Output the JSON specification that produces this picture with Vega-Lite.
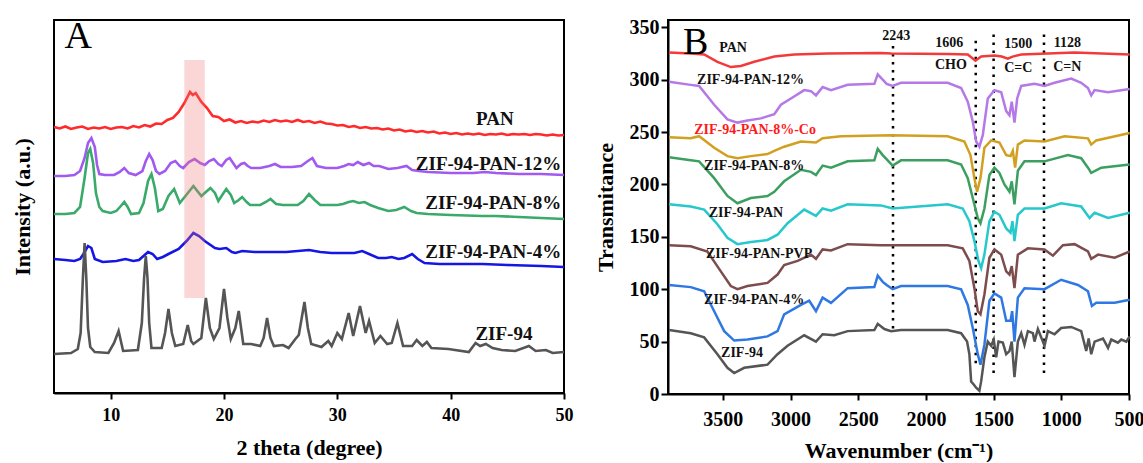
{
"$schema": "https://vega.github.io/schema/vega-lite/v6.json",
"background": "white",
"padding": {"left": 10, "top": 16, "right": 0, "bottom": 0},
"spacing": 19,
"columns": 2,
"align": "none",
"resolve": {"scale": {"color": "independent"}},
"config": {
  "font": "Liberation Serif",
  "view": {"stroke": "black", "strokeWidth": 2},
  "axis": {"labelFont": "Liberation Serif", "labelFontWeight": "bold", "labelColor": "black", "titleFont": "Liberation Serif", "titleFontWeight": "bold", "titleColor": "black", "tickColor": "black", "tickWidth": 2, "domainColor": "black", "domainWidth": 2, "grid": false}
},
"datasets": {
  "xrd": [
    {"x":5,"y":266,"s":"PAN"},{"x":5.5,"y":264.5,"s":"PAN"},{"x":6,"y":266.5,"s":"PAN"},{"x":6.5,"y":264,"s":"PAN"},{"x":7,"y":265.5,"s":"PAN"},{"x":7.5,"y":266.5,"s":"PAN"},{"x":8,"y":264,"s":"PAN"},{"x":8.5,"y":265.5,"s":"PAN"},{"x":9,"y":264.5,"s":"PAN"},{"x":9.5,"y":266,"s":"PAN"},{"x":10,"y":264,"s":"PAN"},{"x":10.5,"y":265.5,"s":"PAN"},{"x":11,"y":266,"s":"PAN"},{"x":11.5,"y":264.5,"s":"PAN"},{"x":12,"y":267,"s":"PAN"},{"x":12.5,"y":265.5,"s":"PAN"},{"x":13,"y":268,"s":"PAN"},{"x":13.5,"y":266.5,"s":"PAN"},{"x":14,"y":269.5,"s":"PAN"},{"x":14.5,"y":269,"s":"PAN"},{"x":15,"y":273,"s":"PAN"},{"x":15.5,"y":275,"s":"PAN"},{"x":16,"y":281,"s":"PAN"},{"x":16.5,"y":290,"s":"PAN"},{"x":17,"y":301,"s":"PAN"},{"x":17.25,"y":298,"s":"PAN"},{"x":17.5,"y":300,"s":"PAN"},{"x":18,"y":291,"s":"PAN"},{"x":18.5,"y":285,"s":"PAN"},{"x":19,"y":277,"s":"PAN"},{"x":19.5,"y":276,"s":"PAN"},{"x":20,"y":272,"s":"PAN"},{"x":20.5,"y":273.5,"s":"PAN"},{"x":21,"y":270.5,"s":"PAN"},{"x":21.5,"y":272,"s":"PAN"},{"x":22,"y":270,"s":"PAN"},{"x":22.5,"y":271.5,"s":"PAN"},{"x":23,"y":270.5,"s":"PAN"},{"x":23.5,"y":272.5,"s":"PAN"},{"x":24,"y":271,"s":"PAN"},{"x":24.5,"y":273,"s":"PAN"},{"x":25,"y":271.5,"s":"PAN"},{"x":25.5,"y":272.5,"s":"PAN"},{"x":26,"y":271,"s":"PAN"},{"x":26.5,"y":273,"s":"PAN"},{"x":27,"y":271,"s":"PAN"},{"x":27.5,"y":272,"s":"PAN"},{"x":28,"y":270,"s":"PAN"},{"x":28.5,"y":271.5,"s":"PAN"},{"x":29,"y":269.5,"s":"PAN"},{"x":29.5,"y":269,"s":"PAN"},{"x":30,"y":267.5,"s":"PAN"},{"x":30.5,"y":268,"s":"PAN"},{"x":31,"y":266,"s":"PAN"},{"x":31.5,"y":267,"s":"PAN"},{"x":32,"y":265,"s":"PAN"},{"x":32.5,"y":266,"s":"PAN"},{"x":33,"y":264.5,"s":"PAN"},{"x":33.5,"y":265,"s":"PAN"},{"x":34,"y":263.5,"s":"PAN"},{"x":34.5,"y":264.5,"s":"PAN"},{"x":35,"y":262.5,"s":"PAN"},{"x":35.5,"y":263.5,"s":"PAN"},{"x":36,"y":261.5,"s":"PAN"},{"x":36.5,"y":262.5,"s":"PAN"},{"x":37,"y":261,"s":"PAN"},{"x":37.5,"y":262,"s":"PAN"},{"x":38,"y":260.5,"s":"PAN"},{"x":38.5,"y":261.5,"s":"PAN"},{"x":39,"y":259.5,"s":"PAN"},{"x":39.5,"y":260.5,"s":"PAN"},{"x":40,"y":259,"s":"PAN"},{"x":40.5,"y":260,"s":"PAN"},{"x":41,"y":258.5,"s":"PAN"},{"x":41.5,"y":259.5,"s":"PAN"},{"x":42,"y":258.5,"s":"PAN"},{"x":42.5,"y":259.5,"s":"PAN"},{"x":43,"y":258,"s":"PAN"},{"x":43.5,"y":259,"s":"PAN"},{"x":44,"y":258.5,"s":"PAN"},{"x":44.5,"y":259.5,"s":"PAN"},{"x":45,"y":258,"s":"PAN"},{"x":45.5,"y":259,"s":"PAN"},{"x":46,"y":258.5,"s":"PAN"},{"x":46.5,"y":259,"s":"PAN"},{"x":47,"y":258,"s":"PAN"},{"x":47.5,"y":259,"s":"PAN"},{"x":48,"y":258.5,"s":"PAN"},{"x":48.5,"y":257.5,"s":"PAN"},{"x":49,"y":258.5,"s":"PAN"},{"x":49.5,"y":257.5,"s":"PAN"},{"x":50,"y":258,"s":"PAN"},

    {"x":5,"y":217,"s":"12"},{"x":6,"y":217,"s":"12"},{"x":6.8,"y":218,"s":"12"},{"x":7.3,"y":222,"s":"12"},{"x":7.7,"y":235,"s":"12"},{"x":8.0,"y":250,"s":"12"},{"x":8.3,"y":255,"s":"12"},{"x":8.6,"y":246,"s":"12"},{"x":8.8,"y":228,"s":"12"},{"x":9.0,"y":219,"s":"12"},{"x":9.5,"y":218,"s":"12"},{"x":10.3,"y":218,"s":"12"},{"x":10.8,"y":221,"s":"12"},{"x":11.2,"y":225,"s":"12"},{"x":11.6,"y":220,"s":"12"},{"x":12.2,"y":218,"s":"12"},{"x":12.8,"y":222,"s":"12"},{"x":13.1,"y":232,"s":"12"},{"x":13.4,"y":239,"s":"12"},{"x":13.7,"y":233,"s":"12"},{"x":14.0,"y":222,"s":"12"},{"x":14.3,"y":219,"s":"12"},{"x":14.8,"y":222,"s":"12"},{"x":15.3,"y":230,"s":"12"},{"x":15.7,"y":232,"s":"12"},{"x":16.1,"y":227,"s":"12"},{"x":16.4,"y":225,"s":"12"},{"x":16.9,"y":231,"s":"12"},{"x":17.4,"y":234,"s":"12"},{"x":17.9,"y":230,"s":"12"},{"x":18.3,"y":228,"s":"12"},{"x":18.7,"y":232,"s":"12"},{"x":19.1,"y":234,"s":"12"},{"x":19.5,"y":229,"s":"12"},{"x":19.8,"y":227,"s":"12"},{"x":20.2,"y":233,"s":"12"},{"x":20.5,"y":235,"s":"12"},{"x":20.8,"y":230,"s":"12"},{"x":21.1,"y":225,"s":"12"},{"x":21.5,"y":229,"s":"12"},{"x":21.8,"y":230,"s":"12"},{"x":22.1,"y":227,"s":"12"},{"x":22.4,"y":225,"s":"12"},{"x":23.2,"y":225,"s":"12"},{"x":24.0,"y":227,"s":"12"},{"x":24.5,"y":229,"s":"12"},{"x":25.0,"y":226,"s":"12"},{"x":26.0,"y":226,"s":"12"},{"x":26.8,"y":227,"s":"12"},{"x":27.4,"y":232,"s":"12"},{"x":27.8,"y":235,"s":"12"},{"x":28.2,"y":227,"s":"12"},{"x":29,"y":225,"s":"12"},{"x":30,"y":225,"s":"12"},{"x":30.6,"y":227,"s":"12"},{"x":31,"y":229,"s":"12"},{"x":31.4,"y":228,"s":"12"},{"x":31.8,"y":231,"s":"12"},{"x":32.3,"y":228,"s":"12"},{"x":32.8,"y":230,"s":"12"},{"x":33.2,"y":227,"s":"12"},{"x":33.7,"y":227,"s":"12"},{"x":34.5,"y":224,"s":"12"},{"x":35.3,"y":225,"s":"12"},{"x":36.1,"y":227,"s":"12"},{"x":36.6,"y":223,"s":"12"},{"x":37.2,"y":222,"s":"12"},{"x":38,"y":221,"s":"12"},{"x":40,"y":220,"s":"12"},{"x":42,"y":220,"s":"12"},{"x":43,"y":221,"s":"12"},{"x":44,"y":220,"s":"12"},{"x":46,"y":219,"s":"12"},{"x":48,"y":219,"s":"12"},{"x":50,"y":218,"s":"12"},

    {"x":5,"y":179,"s":"8"},{"x":6,"y":179,"s":"8"},{"x":6.8,"y":180,"s":"8"},{"x":7.3,"y":186,"s":"8"},{"x":7.7,"y":215,"s":"8"},{"x":8.0,"y":240,"s":"8"},{"x":8.2,"y":244,"s":"8"},{"x":8.45,"y":230,"s":"8"},{"x":8.7,"y":200,"s":"8"},{"x":9.0,"y":186,"s":"8"},{"x":9.3,"y":182,"s":"8"},{"x":10,"y":180,"s":"8"},{"x":10.5,"y":182,"s":"8"},{"x":10.9,"y":187,"s":"8"},{"x":11.2,"y":191,"s":"8"},{"x":11.5,"y":186,"s":"8"},{"x":11.8,"y":179,"s":"8"},{"x":12.5,"y":180,"s":"8"},{"x":12.9,"y":190,"s":"8"},{"x":13.3,"y":212,"s":"8"},{"x":13.6,"y":219,"s":"8"},{"x":13.9,"y":205,"s":"8"},{"x":14.2,"y":182,"s":"8"},{"x":14.6,"y":184,"s":"8"},{"x":15.1,"y":197,"s":"8"},{"x":15.6,"y":204,"s":"8"},{"x":16.1,"y":190,"s":"8"},{"x":16.6,"y":197,"s":"8"},{"x":17.3,"y":207,"s":"8"},{"x":18.0,"y":197,"s":"8"},{"x":18.4,"y":201,"s":"8"},{"x":18.8,"y":205,"s":"8"},{"x":19.2,"y":200,"s":"8"},{"x":19.5,"y":192,"s":"8"},{"x":19.9,"y":199,"s":"8"},{"x":20.2,"y":204,"s":"8"},{"x":20.6,"y":198,"s":"8"},{"x":20.9,"y":190,"s":"8"},{"x":21.3,"y":193,"s":"8"},{"x":21.6,"y":196,"s":"8"},{"x":22.0,"y":191,"s":"8"},{"x":22.3,"y":188,"s":"8"},{"x":23.2,"y":188,"s":"8"},{"x":23.7,"y":191,"s":"8"},{"x":24.1,"y":194,"s":"8"},{"x":24.6,"y":189,"s":"8"},{"x":25.2,"y":188,"s":"8"},{"x":26.5,"y":188,"s":"8"},{"x":27.0,"y":192,"s":"8"},{"x":27.5,"y":199,"s":"8"},{"x":28.0,"y":193,"s":"8"},{"x":28.5,"y":188,"s":"8"},{"x":30,"y":188,"s":"8"},{"x":30.5,"y":189,"s":"8"},{"x":31.0,"y":191,"s":"8"},{"x":31.4,"y":192,"s":"8"},{"x":31.9,"y":190,"s":"8"},{"x":32.4,"y":191,"s":"8"},{"x":32.9,"y":188,"s":"8"},{"x":33.6,"y":185,"s":"8"},{"x":34.5,"y":182,"s":"8"},{"x":35.2,"y":183,"s":"8"},{"x":35.9,"y":186,"s":"8"},{"x":36.5,"y":182,"s":"8"},{"x":37,"y":180,"s":"8"},{"x":38,"y":179,"s":"8"},{"x":40,"y":178,"s":"8"},{"x":42.8,"y":177,"s":"8"},{"x":44,"y":177,"s":"8"},{"x":46,"y":176,"s":"8"},{"x":48,"y":175,"s":"8"},{"x":50,"y":174,"s":"8"},

    {"x":5,"y":134,"s":"4"},{"x":6,"y":133,"s":"4"},{"x":6.8,"y":132,"s":"4"},{"x":7.3,"y":134,"s":"4"},{"x":7.6,"y":139,"s":"4"},{"x":8.0,"y":147,"s":"4"},{"x":8.3,"y":145,"s":"4"},{"x":8.6,"y":134,"s":"4"},{"x":9.3,"y":131,"s":"4"},{"x":10.5,"y":132,"s":"4"},{"x":11.3,"y":134,"s":"4"},{"x":12.0,"y":132,"s":"4"},{"x":12.5,"y":133,"s":"4"},{"x":13.0,"y":138,"s":"4"},{"x":13.3,"y":141,"s":"4"},{"x":13.7,"y":139,"s":"4"},{"x":14.1,"y":134,"s":"4"},{"x":14.6,"y":136,"s":"4"},{"x":15.1,"y":139,"s":"4"},{"x":16.0,"y":144,"s":"4"},{"x":16.7,"y":152,"s":"4"},{"x":17.3,"y":160,"s":"4"},{"x":17.8,"y":157,"s":"4"},{"x":18.3,"y":152,"s":"4"},{"x":19.2,"y":145,"s":"4"},{"x":19.6,"y":144,"s":"4"},{"x":20.2,"y":145,"s":"4"},{"x":20.7,"y":141,"s":"4"},{"x":21.0,"y":140,"s":"4"},{"x":21.6,"y":142,"s":"4"},{"x":22.7,"y":141,"s":"4"},{"x":24.5,"y":141,"s":"4"},{"x":25.5,"y":141,"s":"4"},{"x":27.5,"y":143,"s":"4"},{"x":28.5,"y":141,"s":"4"},{"x":29.5,"y":140,"s":"4"},{"x":30.5,"y":140,"s":"4"},{"x":31.5,"y":140,"s":"4"},{"x":32.2,"y":142,"s":"4"},{"x":32.8,"y":139,"s":"4"},{"x":33.6,"y":135,"s":"4"},{"x":34.3,"y":135,"s":"4"},{"x":34.8,"y":136,"s":"4"},{"x":35.4,"y":134,"s":"4"},{"x":35.9,"y":135,"s":"4"},{"x":36.6,"y":139,"s":"4"},{"x":37.1,"y":134,"s":"4"},{"x":37.7,"y":130,"s":"4"},{"x":39,"y":129,"s":"4"},{"x":42.8,"y":129,"s":"4"},{"x":45,"y":128,"s":"4"},{"x":48,"y":127,"s":"4"},{"x":50,"y":126,"s":"4"},

    {"x":5,"y":39,"s":"Z"},{"x":6.5,"y":40,"s":"Z"},{"x":7.1,"y":44,"s":"Z"},{"x":7.35,"y":60,"s":"Z"},{"x":7.55,"y":115,"s":"Z"},{"x":7.7,"y":150,"s":"Z"},{"x":7.85,"y":115,"s":"Z"},{"x":8.0,"y":65,"s":"Z"},{"x":8.2,"y":46,"s":"Z"},{"x":8.6,"y":41,"s":"Z"},{"x":9.8,"y":40,"s":"Z"},{"x":10.3,"y":50,"s":"Z"},{"x":10.7,"y":62,"s":"Z"},{"x":11.1,"y":42,"s":"Z"},{"x":12.4,"y":43,"s":"Z"},{"x":12.75,"y":70,"s":"Z"},{"x":12.95,"y":115,"s":"Z"},{"x":13.1,"y":137,"s":"Z"},{"x":13.25,"y":115,"s":"Z"},{"x":13.4,"y":70,"s":"Z"},{"x":13.6,"y":45,"s":"Z"},{"x":14.5,"y":45,"s":"Z"},{"x":14.8,"y":60,"s":"Z"},{"x":15.1,"y":84,"s":"Z"},{"x":15.4,"y":60,"s":"Z"},{"x":15.7,"y":47,"s":"Z"},{"x":16.4,"y":49,"s":"Z"},{"x":16.8,"y":68,"s":"Z"},{"x":17.1,"y":52,"s":"Z"},{"x":17.3,"y":49,"s":"Z"},{"x":18.0,"y":55,"s":"Z"},{"x":18.4,"y":95,"s":"Z"},{"x":18.75,"y":65,"s":"Z"},{"x":19.1,"y":54,"s":"Z"},{"x":19.6,"y":65,"s":"Z"},{"x":20.0,"y":104,"s":"Z"},{"x":20.3,"y":75,"s":"Z"},{"x":20.6,"y":54,"s":"Z"},{"x":21.0,"y":65,"s":"Z"},{"x":21.3,"y":82,"s":"Z"},{"x":21.7,"y":49,"s":"Z"},{"x":22.4,"y":49,"s":"Z"},{"x":23.2,"y":47,"s":"Z"},{"x":23.5,"y":55,"s":"Z"},{"x":23.8,"y":75,"s":"Z"},{"x":24.1,"y":55,"s":"Z"},{"x":24.4,"y":47,"s":"Z"},{"x":25.2,"y":48,"s":"Z"},{"x":25.7,"y":45,"s":"Z"},{"x":26.3,"y":54,"s":"Z"},{"x":26.6,"y":58,"s":"Z"},{"x":27.1,"y":91,"s":"Z"},{"x":27.4,"y":65,"s":"Z"},{"x":27.7,"y":49,"s":"Z"},{"x":28.6,"y":46,"s":"Z"},{"x":29.2,"y":52,"s":"Z"},{"x":29.5,"y":47,"s":"Z"},{"x":30.0,"y":60,"s":"Z"},{"x":30.4,"y":54,"s":"Z"},{"x":31.0,"y":80,"s":"Z"},{"x":31.4,"y":57,"s":"Z"},{"x":32.0,"y":87,"s":"Z"},{"x":32.5,"y":60,"s":"Z"},{"x":32.8,"y":72,"s":"Z"},{"x":33.3,"y":50,"s":"Z"},{"x":33.8,"y":57,"s":"Z"},{"x":34.4,"y":49,"s":"Z"},{"x":34.8,"y":50,"s":"Z"},{"x":35.3,"y":70,"s":"Z"},{"x":35.8,"y":47,"s":"Z"},{"x":36.6,"y":47,"s":"Z"},{"x":37.0,"y":53,"s":"Z"},{"x":37.5,"y":47,"s":"Z"},{"x":37.9,"y":51,"s":"Z"},{"x":38.3,"y":45,"s":"Z"},{"x":39.8,"y":44,"s":"Z"},{"x":41.6,"y":41,"s":"Z"},{"x":42.2,"y":50,"s":"Z"},{"x":42.6,"y":47,"s":"Z"},{"x":43.1,"y":49,"s":"Z"},{"x":43.7,"y":45,"s":"Z"},{"x":44.5,"y":43,"s":"Z"},{"x":45.7,"y":42,"s":"Z"},{"x":46.9,"y":47,"s":"Z"},{"x":47.5,"y":42,"s":"Z"},{"x":48.4,"y":43,"s":"Z"},{"x":49.0,"y":40,"s":"Z"},{"x":50,"y":41,"s":"Z"}
  ],
  "band": [{"x1": 16.5, "x2": 18.3, "y1": 95, "y2": 333}],
  "alabR": [{"x": 49.75, "y": 229, "t": "ZIF-94-PAN-12%"}, {"x": 49.75, "y": 190, "t": "ZIF-94-PAN-8%"}, {"x": 49.75, "y": 141, "t": "ZIF-94-PAN-4%"}],
  "alabC": [{"x": 43.9, "y": 274, "t": "PAN"}, {"x": 44.7, "y": 59, "t": "ZIF-94"}],
  "aletter": [{"x": 5.93, "y": 375, "t": "A"}],
  "ftir": [
    {"w":3897,"t":326,"s":"PAN"},{"w":3737,"t":325,"s":"PAN"},{"w":3638,"t":324,"s":"PAN"},{"w":3540,"t":317,"s":"PAN"},{"w":3441,"t":312,"s":"PAN"},{"w":3367,"t":313,"s":"PAN"},{"w":3268,"t":317,"s":"PAN"},{"w":3120,"t":322,"s":"PAN"},{"w":2973,"t":324,"s":"PAN"},{"w":2726,"t":325,"s":"PAN"},{"w":2332,"t":325.4,"s":"PAN"},{"w":2257,"t":325,"s":"PAN"},{"w":1839,"t":324.4,"s":"PAN"},{"w":1691,"t":324,"s":"PAN"},{"w":1634,"t":318,"s":"PAN"},{"w":1592,"t":322,"s":"PAN"},{"w":1494,"t":323,"s":"PAN"},{"w":1440,"t":322,"s":"PAN"},{"w":1395,"t":320,"s":"PAN"},{"w":1360,"t":322,"s":"PAN"},{"w":1296,"t":324,"s":"PAN"},{"w":902,"t":326,"s":"PAN"},{"w":700,"t":325,"s":"PAN"},{"w":495,"t":324,"s":"PAN"},

    {"w":3897,"t":298,"s":"12"},{"w":3737,"t":295,"s":"12"},{"w":3675,"t":294,"s":"12"},{"w":3564,"t":276,"s":"12"},{"w":3466,"t":262,"s":"12"},{"w":3392,"t":259,"s":"12"},{"w":3318,"t":261,"s":"12"},{"w":3219,"t":263,"s":"12"},{"w":3120,"t":267,"s":"12"},{"w":3071,"t":276,"s":"12"},{"w":2997,"t":282,"s":"12"},{"w":2899,"t":290,"s":"12"},{"w":2849,"t":289,"s":"12"},{"w":2812,"t":285,"s":"12"},{"w":2763,"t":293,"s":"12"},{"w":2701,"t":290,"s":"12"},{"w":2578,"t":295,"s":"12"},{"w":2381,"t":296,"s":"12"},{"w":2356,"t":305,"s":"12"},{"w":2319,"t":300,"s":"12"},{"w":2290,"t":296,"s":"12"},{"w":2246,"t":294,"s":"12"},{"w":2184,"t":297,"s":"12"},{"w":1839,"t":297,"s":"12"},{"w":1740,"t":292,"s":"12"},{"w":1691,"t":279,"s":"12"},{"w":1654,"t":260,"s":"12"},{"w":1629,"t":241,"s":"12"},{"w":1605,"t":236,"s":"12"},{"w":1580,"t":247,"s":"12"},{"w":1543,"t":282,"s":"12"},{"w":1494,"t":290,"s":"12"},{"w":1444,"t":288,"s":"12"},{"w":1407,"t":270,"s":"12"},{"w":1383,"t":266,"s":"12"},{"w":1366,"t":279,"s":"12"},{"w":1346,"t":259,"s":"12"},{"w":1326,"t":282,"s":"12"},{"w":1296,"t":294,"s":"12"},{"w":1198,"t":296,"s":"12"},{"w":1124,"t":294,"s":"12"},{"w":1050,"t":297,"s":"12"},{"w":927,"t":301,"s":"12"},{"w":853,"t":297,"s":"12"},{"w":803,"t":292,"s":"12"},{"w":779,"t":285,"s":"12"},{"w":754,"t":290,"s":"12"},{"w":655,"t":288,"s":"12"},{"w":495,"t":291,"s":"12"},

    {"w":3897,"t":245,"s":"Co"},{"w":3737,"t":244,"s":"Co"},{"w":3675,"t":246,"s":"Co"},{"w":3564,"t":235,"s":"Co"},{"w":3466,"t":227,"s":"Co"},{"w":3392,"t":225,"s":"Co"},{"w":3293,"t":227,"s":"Co"},{"w":3170,"t":229,"s":"Co"},{"w":3120,"t":232,"s":"Co"},{"w":3047,"t":236,"s":"Co"},{"w":2923,"t":241,"s":"Co"},{"w":2812,"t":240,"s":"Co"},{"w":2763,"t":244,"s":"Co"},{"w":2627,"t":246,"s":"Co"},{"w":2257,"t":247,"s":"Co"},{"w":1839,"t":246,"s":"Co"},{"w":1716,"t":241,"s":"Co"},{"w":1671,"t":228,"s":"Co"},{"w":1642,"t":206,"s":"Co"},{"w":1622,"t":193,"s":"Co"},{"w":1597,"t":206,"s":"Co"},{"w":1568,"t":235,"s":"Co"},{"w":1518,"t":242,"s":"Co"},{"w":1457,"t":240,"s":"Co"},{"w":1407,"t":228,"s":"Co"},{"w":1375,"t":227,"s":"Co"},{"w":1358,"t":232,"s":"Co"},{"w":1341,"t":216,"s":"Co"},{"w":1321,"t":238,"s":"Co"},{"w":1272,"t":242,"s":"Co"},{"w":1124,"t":241,"s":"Co"},{"w":976,"t":246,"s":"Co"},{"w":803,"t":244,"s":"Co"},{"w":779,"t":238,"s":"Co"},{"w":742,"t":242,"s":"Co"},{"w":495,"t":249,"s":"Co"},

    {"w":3897,"t":226,"s":"8"},{"w":3737,"t":223,"s":"8"},{"w":3675,"t":222,"s":"8"},{"w":3564,"t":206,"s":"8"},{"w":3466,"t":189,"s":"8"},{"w":3392,"t":182,"s":"8"},{"w":3293,"t":187,"s":"8"},{"w":3170,"t":189,"s":"8"},{"w":3120,"t":193,"s":"8"},{"w":3047,"t":203,"s":"8"},{"w":2923,"t":214,"s":"8"},{"w":2849,"t":212,"s":"8"},{"w":2812,"t":209,"s":"8"},{"w":2763,"t":218,"s":"8"},{"w":2701,"t":216,"s":"8"},{"w":2578,"t":222,"s":"8"},{"w":2381,"t":223,"s":"8"},{"w":2356,"t":234,"s":"8"},{"w":2319,"t":228,"s":"8"},{"w":2246,"t":218,"s":"8"},{"w":2184,"t":223,"s":"8"},{"w":1839,"t":223,"s":"8"},{"w":1740,"t":219,"s":"8"},{"w":1691,"t":206,"s":"8"},{"w":1654,"t":187,"s":"8"},{"w":1617,"t":168,"s":"8"},{"w":1597,"t":163,"s":"8"},{"w":1568,"t":177,"s":"8"},{"w":1531,"t":209,"s":"8"},{"w":1494,"t":216,"s":"8"},{"w":1457,"t":211,"s":"8"},{"w":1420,"t":200,"s":"8"},{"w":1383,"t":193,"s":"8"},{"w":1366,"t":203,"s":"8"},{"w":1346,"t":181,"s":"8"},{"w":1321,"t":213,"s":"8"},{"w":1272,"t":222,"s":"8"},{"w":1124,"t":222,"s":"8"},{"w":951,"t":228,"s":"8"},{"w":853,"t":225,"s":"8"},{"w":803,"t":216,"s":"8"},{"w":779,"t":211,"s":"8"},{"w":705,"t":216,"s":"8"},{"w":495,"t":219,"s":"8"},

    {"w":3897,"t":181,"s":"ZP"},{"w":3737,"t":179,"s":"ZP"},{"w":3638,"t":176,"s":"ZP"},{"w":3540,"t":162,"s":"ZP"},{"w":3466,"t":149,"s":"ZP"},{"w":3392,"t":143,"s":"ZP"},{"w":3293,"t":145,"s":"ZP"},{"w":3170,"t":147,"s":"ZP"},{"w":3096,"t":152,"s":"ZP"},{"w":3022,"t":163,"s":"ZP"},{"w":2899,"t":176,"s":"ZP"},{"w":2812,"t":170,"s":"ZP"},{"w":2763,"t":177,"s":"ZP"},{"w":2701,"t":175,"s":"ZP"},{"w":2578,"t":181,"s":"ZP"},{"w":2332,"t":180,"s":"ZP"},{"w":2246,"t":177,"s":"ZP"},{"w":1839,"t":181,"s":"ZP"},{"w":1728,"t":177,"s":"ZP"},{"w":1679,"t":165,"s":"ZP"},{"w":1642,"t":146,"s":"ZP"},{"w":1612,"t":127,"s":"ZP"},{"w":1592,"t":120,"s":"ZP"},{"w":1568,"t":133,"s":"ZP"},{"w":1531,"t":165,"s":"ZP"},{"w":1494,"t":174,"s":"ZP"},{"w":1457,"t":171,"s":"ZP"},{"w":1407,"t":158,"s":"ZP"},{"w":1375,"t":154,"s":"ZP"},{"w":1361,"t":165,"s":"ZP"},{"w":1346,"t":146,"s":"ZP"},{"w":1321,"t":171,"s":"ZP"},{"w":1272,"t":177,"s":"ZP"},{"w":1124,"t":177,"s":"ZP"},{"w":1001,"t":182,"s":"ZP"},{"w":853,"t":179,"s":"ZP"},{"w":791,"t":168,"s":"ZP"},{"w":754,"t":173,"s":"ZP"},{"w":655,"t":168,"s":"ZP"},{"w":495,"t":173,"s":"ZP"},

    {"w":3897,"t":142,"s":"PVP"},{"w":3737,"t":141,"s":"PVP"},{"w":3614,"t":136,"s":"PVP"},{"w":3515,"t":117,"s":"PVP"},{"w":3441,"t":103,"s":"PVP"},{"w":3392,"t":100,"s":"PVP"},{"w":3318,"t":103,"s":"PVP"},{"w":3170,"t":106,"s":"PVP"},{"w":3096,"t":114,"s":"PVP"},{"w":3047,"t":123,"s":"PVP"},{"w":2948,"t":127,"s":"PVP"},{"w":2849,"t":133,"s":"PVP"},{"w":2812,"t":129,"s":"PVP"},{"w":2763,"t":138,"s":"PVP"},{"w":2701,"t":137,"s":"PVP"},{"w":2578,"t":143,"s":"PVP"},{"w":2332,"t":142,"s":"PVP"},{"w":1839,"t":142,"s":"PVP"},{"w":1728,"t":139,"s":"PVP"},{"w":1679,"t":127,"s":"PVP"},{"w":1642,"t":101,"s":"PVP"},{"w":1617,"t":79,"s":"PVP"},{"w":1597,"t":76,"s":"PVP"},{"w":1568,"t":95,"s":"PVP"},{"w":1531,"t":130,"s":"PVP"},{"w":1494,"t":138,"s":"PVP"},{"w":1444,"t":133,"s":"PVP"},{"w":1407,"t":117,"s":"PVP"},{"w":1383,"t":114,"s":"PVP"},{"w":1366,"t":122,"s":"PVP"},{"w":1346,"t":101,"s":"PVP"},{"w":1321,"t":133,"s":"PVP"},{"w":1247,"t":139,"s":"PVP"},{"w":1124,"t":138,"s":"PVP"},{"w":1062,"t":132,"s":"PVP"},{"w":988,"t":142,"s":"PVP"},{"w":902,"t":143,"s":"PVP"},{"w":803,"t":136,"s":"PVP"},{"w":779,"t":129,"s":"PVP"},{"w":729,"t":133,"s":"PVP"},{"w":606,"t":130,"s":"PVP"},{"w":495,"t":136,"s":"PVP"},

    {"w":3897,"t":104,"s":"4"},{"w":3737,"t":102,"s":"4"},{"w":3638,"t":98,"s":"4"},{"w":3564,"t":79,"s":"4"},{"w":3490,"t":60,"s":"4"},{"w":3416,"t":51,"s":"4"},{"w":3318,"t":52,"s":"4"},{"w":3170,"t":55,"s":"4"},{"w":3096,"t":60,"s":"4"},{"w":3047,"t":76,"s":"4"},{"w":2923,"t":85,"s":"4"},{"w":2862,"t":89,"s":"4"},{"w":2812,"t":79,"s":"4"},{"w":2763,"t":92,"s":"4"},{"w":2701,"t":87,"s":"4"},{"w":2578,"t":101,"s":"4"},{"w":2381,"t":102,"s":"4"},{"w":2356,"t":113,"s":"4"},{"w":2319,"t":107,"s":"4"},{"w":2290,"t":104,"s":"4"},{"w":2246,"t":100,"s":"4"},{"w":2184,"t":103,"s":"4"},{"w":1839,"t":103,"s":"4"},{"w":1740,"t":100,"s":"4"},{"w":1691,"t":85,"s":"4"},{"w":1654,"t":63,"s":"4"},{"w":1617,"t":38,"s":"4"},{"w":1597,"t":28,"s":"4"},{"w":1568,"t":47,"s":"4"},{"w":1531,"t":89,"s":"4"},{"w":1494,"t":96,"s":"4"},{"w":1444,"t":92,"s":"4"},{"w":1407,"t":70,"s":"4"},{"w":1375,"t":70,"s":"4"},{"w":1363,"t":79,"s":"4"},{"w":1346,"t":50,"s":"4"},{"w":1321,"t":92,"s":"4"},{"w":1272,"t":101,"s":"4"},{"w":1124,"t":100,"s":"4"},{"w":1001,"t":109,"s":"4"},{"w":877,"t":104,"s":"4"},{"w":803,"t":98,"s":"4"},{"w":774,"t":84,"s":"4"},{"w":742,"t":87,"s":"4"},{"w":606,"t":87,"s":"4"},{"w":495,"t":90,"s":"4"},

    {"w":3897,"t":61,"s":"Z"},{"w":3737,"t":58,"s":"Z"},{"w":3638,"t":54,"s":"Z"},{"w":3540,"t":38,"s":"Z"},{"w":3466,"t":25,"s":"Z"},{"w":3416,"t":20,"s":"Z"},{"w":3342,"t":25,"s":"Z"},{"w":3170,"t":28,"s":"Z"},{"w":3096,"t":38,"s":"Z"},{"w":3022,"t":46,"s":"Z"},{"w":2899,"t":56,"s":"Z"},{"w":2812,"t":50,"s":"Z"},{"w":2763,"t":57,"s":"Z"},{"w":2677,"t":56,"s":"Z"},{"w":2578,"t":60,"s":"Z"},{"w":2381,"t":61,"s":"Z"},{"w":2356,"t":67,"s":"Z"},{"w":2307,"t":62,"s":"Z"},{"w":2257,"t":60,"s":"Z"},{"w":2184,"t":61,"s":"Z"},{"w":1839,"t":61,"s":"Z"},{"w":1740,"t":58,"s":"Z"},{"w":1696,"t":50,"s":"Z"},{"w":1679,"t":38,"s":"Z"},{"w":1666,"t":12,"s":"Z"},{"w":1647,"t":9,"s":"Z"},{"w":1629,"t":6,"s":"Z"},{"w":1605,"t":3,"s":"Z"},{"w":1592,"t":12,"s":"Z"},{"w":1568,"t":35,"s":"Z"},{"w":1543,"t":50,"s":"Z"},{"w":1518,"t":46,"s":"Z"},{"w":1499,"t":52,"s":"Z"},{"w":1481,"t":35,"s":"Z"},{"w":1464,"t":50,"s":"Z"},{"w":1432,"t":49,"s":"Z"},{"w":1407,"t":38,"s":"Z"},{"w":1383,"t":41,"s":"Z"},{"w":1366,"t":50,"s":"Z"},{"w":1346,"t":16,"s":"Z"},{"w":1321,"t":50,"s":"Z"},{"w":1296,"t":58,"s":"Z"},{"w":1272,"t":47,"s":"Z"},{"w":1247,"t":60,"s":"Z"},{"w":1210,"t":58,"s":"Z"},{"w":1198,"t":50,"s":"Z"},{"w":1173,"t":62,"s":"Z"},{"w":1124,"t":46,"s":"Z"},{"w":1099,"t":60,"s":"Z"},{"w":1050,"t":57,"s":"Z"},{"w":1001,"t":63,"s":"Z"},{"w":927,"t":64,"s":"Z"},{"w":853,"t":60,"s":"Z"},{"w":816,"t":41,"s":"Z"},{"w":798,"t":53,"s":"Z"},{"w":779,"t":38,"s":"Z"},{"w":754,"t":50,"s":"Z"},{"w":692,"t":53,"s":"Z"},{"w":655,"t":44,"s":"Z"},{"w":631,"t":52,"s":"Z"},{"w":582,"t":49,"s":"Z"},{"w":557,"t":52,"s":"Z"},{"w":520,"t":50,"s":"Z"},{"w":495,"t":55,"s":"Z"}
  ],
  "rules": [{"w": 2243, "y1": 332, "y2": 58}, {"w": 1632, "y1": 337, "y2": 25}, {"w": 1500, "y1": 343, "y2": 19}, {"w": 1128, "y1": 343, "y2": 19}],
  "blab": [
    {"w": 3425, "t": 330.2, "l": "PAN"}, {"w": 3295, "t": 299.6, "l": "ZIF-94-PAN-12%"}, {"w": 3269, "t": 217.6, "l": "ZIF-94-PAN-8%"}, {"w": 3329, "t": 172.7, "l": "ZIF-94-PAN"}, {"w": 3232, "t": 134, "l": "ZIF-94-PAN-PVP"}, {"w": 3269, "t": 89.7, "l": "ZIF-94-PAN-4%"}, {"w": 3358, "t": 39.1, "l": "ZIF-94"},
    {"w": 2220, "t": 341.6, "l": "2243"}, {"w": 1828, "t": 334.9, "l": "1606"}, {"w": 1318, "t": 334, "l": "1500"}, {"w": 956, "t": 334.9, "l": "1128"}, {"w": 1816, "t": 313.9, "l": "CHO"}, {"w": 1318, "t": 311, "l": "C=C"}, {"w": 956, "t": 312, "l": "C=N"}
  ],
  "blabRed": [{"w": 3262, "t": 251.9, "l": "ZIF-94-PAN-8%-Co"}],
  "bletter": [{"w": 3794, "t": 353, "l": "B"}]
},
"concat": [
  {
    "width": 510, "height": 373,
    "layer": [
      {
        "data": {"name": "xrd"},
        "mark": {"type": "line", "strokeWidth": 2.6},
        "encoding": {
          "x": {"field": "x", "type": "quantitative", "scale": {"domain": [5, 50], "nice": false, "zero": false},
                "axis": {"values": [10, 20, 30, 40, 50], "title": "2 theta (degree)", "labelFlush": false, "labelFontSize": 18, "titleFontSize": 22, "tickSize": 6, "labelPadding": 7, "titlePadding": 13}},
          "y": {"field": "y", "type": "quantitative", "scale": {"domain": [0, 373], "nice": false},
                "axis": {"labels": false, "ticks": false, "domain": false, "title": "Intensity (a.u.)", "titleFontSize": 22, "titlePadding": 20}},
          "color": {"field": "s", "type": "nominal", "legend": null,
                    "scale": {"domain": ["PAN", "12", "8", "4", "Z"], "range": ["#ff2a2a", "#a259f0", "#3aaa6a", "#1616e4", "#555555"]}}
        }
      },
      {
        "data": {"name": "band"},
        "mark": {"type": "rect", "color": "#f07878", "opacity": 0.3},
        "encoding": {
          "x": {"field": "x1", "type": "quantitative"}, "x2": {"field": "x2"},
          "y": {"field": "y1", "type": "quantitative"}, "y2": {"field": "y2"}
        }
      },
      {
        "data": {"name": "alabR"},
        "mark": {"type": "text", "align": "right", "baseline": "middle", "font": "Liberation Serif", "fontWeight": "bold", "fontSize": 19, "color": "#111111"},
        "encoding": {"x": {"field": "x", "type": "quantitative"}, "y": {"field": "y", "type": "quantitative"}, "text": {"field": "t"}}
      },
      {
        "data": {"name": "alabC"},
        "mark": {"type": "text", "align": "center", "baseline": "middle", "font": "Liberation Serif", "fontWeight": "bold", "fontSize": 19, "color": "#111111"},
        "encoding": {"x": {"field": "x", "type": "quantitative"}, "y": {"field": "y", "type": "quantitative"}, "text": {"field": "t"}}
      },
      {
        "data": {"name": "aletter"},
        "mark": {"type": "text", "align": "left", "baseline": "top", "font": "Liberation Serif", "fontSize": 38, "color": "black"},
        "encoding": {"x": {"field": "x", "type": "quantitative"}, "y": {"field": "y", "type": "quantitative"}, "text": {"field": "t"}}
      }
    ]
  },
  {
    "width": 461, "height": 374,
    "layer": [
      {
        "data": {"name": "rules"},
        "mark": {"type": "rule", "color": "black", "strokeWidth": 2.5, "strokeDash": [2.5, 5.5]},
        "encoding": {
          "x": {"field": "w", "type": "quantitative", "scale": {"domain": [3905, 500], "nice": false, "zero": false},
                "axis": {"values": [3500, 3000, 2500, 2000, 1500, 1000, 500], "format": "d", "title": "Wavenumber (cm⁻¹)", "labelFlush": false, "labelFontSize": 20, "titleFontSize": 22, "tickSize": 6, "labelPadding": 9, "titlePadding": 11}},
          "y": {"field": "y1", "type": "quantitative", "scale": {"domain": [0, 356.9], "nice": false},
                "axis": {"values": [0, 50, 100, 150, 200, 250, 300, 350], "format": "d", "title": "Transmitance", "labelFontSize": 20, "titleFontSize": 22, "tickSize": 7, "labelPadding": 2, "titlePadding": 12}},
          "y2": {"field": "y2"}
        }
      },
      {
        "data": {"name": "ftir"},
        "mark": {"type": "line", "strokeWidth": 2.5},
        "encoding": {
          "x": {"field": "w", "type": "quantitative"},
          "y": {"field": "t", "type": "quantitative"},
          "color": {"field": "s", "type": "nominal", "legend": null,
                    "scale": {"domain": ["PAN", "12", "Co", "8", "ZP", "PVP", "4", "Z"], "range": ["#f23a3a", "#b479e6", "#d2a020", "#3c9f60", "#26c8cc", "#7d4c4c", "#2f78e2", "#555555"]}}
        }
      },
      {
        "data": {"name": "blab"},
        "mark": {"type": "text", "align": "center", "baseline": "middle", "font": "Liberation Serif", "fontWeight": "bold", "fontSize": 14, "color": "#111111"},
        "encoding": {"x": {"field": "w", "type": "quantitative"}, "y": {"field": "t", "type": "quantitative"}, "text": {"field": "l"}}
      },
      {
        "data": {"name": "blabRed"},
        "mark": {"type": "text", "align": "center", "baseline": "middle", "font": "Liberation Serif", "fontWeight": "bold", "fontSize": 14, "color": "#ff1a1a"},
        "encoding": {"x": {"field": "w", "type": "quantitative"}, "y": {"field": "t", "type": "quantitative"}, "text": {"field": "l"}}
      },
      {
        "data": {"name": "bletter"},
        "mark": {"type": "text", "align": "left", "baseline": "top", "font": "Liberation Serif", "fontSize": 38, "color": "black"},
        "encoding": {"x": {"field": "w", "type": "quantitative"}, "y": {"field": "t", "type": "quantitative"}, "text": {"field": "l"}}
      }
    ]
  }
]
}
